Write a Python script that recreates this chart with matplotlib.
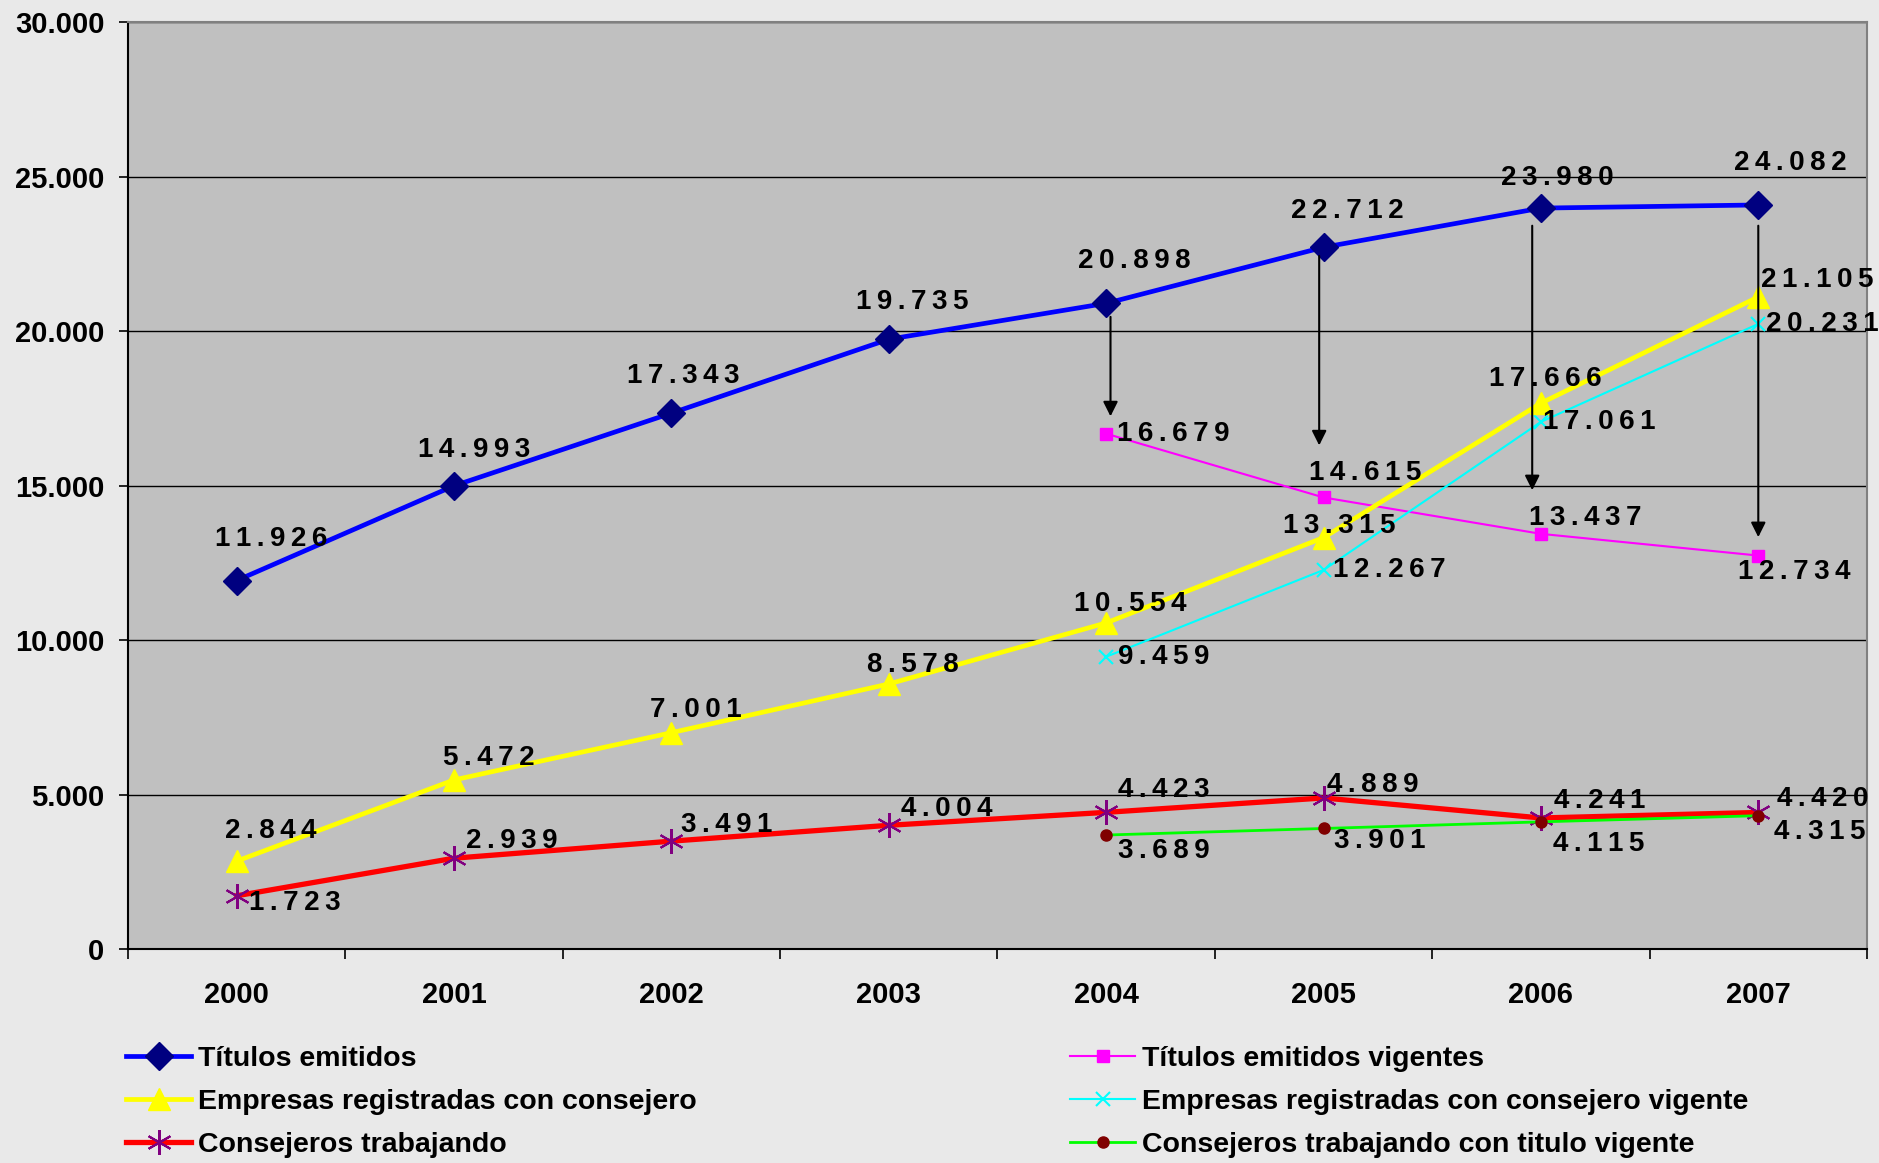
import matplotlib
matplotlib.use("Agg")
import matplotlib.pyplot as plt
from matplotlib.lines import Line2D

plt.rcParams["font.family"] = ["Liberation Sans", "DejaVu Sans"]
plt.rcParams["font.weight"] = "bold"

years = ["2000", "2001", "2002", "2003", "2004", "2005", "2006", "2007"]
titulos = [11926, 14993, 17343, 19735, 20898, 22712, 23980, 24082]
empresas = [2844, 5472, 7001, 8578, 10554, 13315, 17666, 21105]
consejeros = [1723, 2939, 3491, 4004, 4423, 4889, 4241, 4420]
# series that start in 2004
vig_idx = [4, 5, 6, 7]
titulos_vig = [16679, 14615, 13437, 12734]
empresas_vig = [9459, 12267, 17061, 20231]
consejeros_vig = [3689, 3901, 4115, 4315]
# arrows from "emitidos" down to "vigentes"
arrow_top = [20550, 22520, 23500, 23500]
arrow_end = [17150, 16210, 14760, 13240]

names = ["Títulos emitidos", "Empresas registradas con consejero", "Consejeros trabajando",
         "Títulos emitidos vigentes", "Empresas registradas con consejero vigente",
         "Consejeros trabajando con titulo vigente"]

# label offsets in pixels (dx, dy)
off_tit = [(35, 42), (20, 36), (12, 37), (23, 37), (28, 42), (24, 36), (16, 30), (32, 42)]
off_emp = [(34, 30), (35, 22), (24, 23), (24, 19), (24, 19), (16, 12), (4, 24), (59, 17)]
off_cons = [(58, -7), (58, 17), (55, 16), (58, 16), (58, 22), (49, 13), (59, 17), (64, 13)]
off_tvig = [(67, 0), (42, 24), (44, 16), (36, -16)]
off_evig = [(58, 0), (66, 0), (58, 0), (64, 0)]
off_cvig = [(58, -16), (56, -13), (58, -22), (61, -16)]
arrow_dx = [0.02, -0.02, -0.04, 0.0]


def fmt(v):
    return f"{v:,}".replace(",", ".")


def spaced(s):
    return "\u2009".join(s)


fig = plt.figure(figsize=(18.79, 11.63), dpi=100)
fig.patch.set_facecolor("#e9e9e9")
ax = fig.add_axes([0.0681, 0.184, 0.9255, 0.797])
ax.set_facecolor("#c0c0c0")

x = list(range(len(years)))

ax.plot(x, titulos, color="#0000ff", lw=3.4, marker="D", ms=14, mfc="#000080", mec="#000080", zorder=5)
ax.plot(x, empresas, color="#ffff00", lw=3.4, marker="^", ms=16, mfc="#ffff00", mec="#ffff00", zorder=5)
ax.plot(x, consejeros, color="#ff0000", lw=3.8, marker=(6, 2, 0), ms=18, mew=1.5, mec="#800080", zorder=5)
ax.plot(vig_idx, titulos_vig, color="#ff00ff", lw=1.5, marker="s", ms=8, mfc="#ff00ff", mec="#ff00ff", zorder=4)
ax.plot(vig_idx, empresas_vig, color="#00ffff", lw=1.5, marker="x", ms=10, mew=1.5, mec="#00ffff", zorder=4)
ax.plot(vig_idx, consejeros_vig, color="#00ff00", lw=2, marker="o", ms=8, mfc="#800000", mec="#800000", zorder=6)

for i, t, e, dx in zip(vig_idx, arrow_top, arrow_end, arrow_dx):
    ax.annotate("", xy=(i + dx, e), xytext=(i + dx, t),
                arrowprops=dict(arrowstyle="-|>", color="black", lw=1.5, mutation_scale=22),
                zorder=7)

label_sets = [
    (x, titulos, off_tit), (x, empresas, off_emp), (x, consejeros, off_cons),
    (vig_idx, titulos_vig, off_tvig), (vig_idx, empresas_vig, off_evig), (vig_idx, consejeros_vig, off_cvig),
]
for xs, ys, offs in label_sets:
    for xi, yi, (dx, dy) in zip(xs, ys, offs):
        ax.annotate(spaced(fmt(yi)), (xi, yi), xytext=(dx, dy), textcoords="offset pixels",
                    ha="center", va="center", fontsize=20, fontweight="bold", zorder=8)

ax.set_xlim(-0.5, 7.5)
ax.set_ylim(0, 30000)
ax.set_yticks(range(0, 30001, 5000))
ax.set_yticklabels([fmt(v) for v in range(0, 30001, 5000)])
ax.yaxis.grid(True, color="black", lw=1)
ax.set_axisbelow(True)
ax.set_xticks(x)
ax.set_xticklabels(years)
ax.set_xticks([i + 0.5 for i in range(-1, 8)], minor=True)
ax.tick_params(axis="x", which="major", length=0, pad=23, labelsize=21)
ax.tick_params(axis="x", which="minor", length=7, width=1.2, direction="out")
ax.tick_params(axis="y", length=6.5, width=1.2, pad=10.5, labelsize=21)
for lab in ax.get_xticklabels() + ax.get_yticklabels():
    lab.set_fontweight("bold")

ax.spines["left"].set_color("black")
ax.spines["left"].set_linewidth(1.5)
ax.spines["bottom"].set_color("black")
ax.spines["bottom"].set_linewidth(1.5)
ax.spines["top"].set_color("#808080")
ax.spines["right"].set_color("#808080")
ax.spines["top"].set_linewidth(1.5)
ax.spines["right"].set_linewidth(1.5)

handles = [
    Line2D([], [], color="#0000ff", lw=3.4, marker="D", ms=14, mfc="#000080", mec="#000080"),
    Line2D([], [], color="#ffff00", lw=3.4, marker="^", ms=16, mfc="#ffff00", mec="#ffff00"),
    Line2D([], [], color="#ff0000", lw=3.8, marker=(6, 2, 0), ms=18, mew=1.5, mec="#800080"),
    Line2D([], [], color="#ff00ff", lw=1.5, marker="s", ms=8, mfc="#ff00ff", mec="#ff00ff"),
    Line2D([], [], color="#00ffff", lw=1.5, marker="x", ms=10, mew=1.5, mec="#00ffff"),
    Line2D([], [], color="#00ff00", lw=2, marker="o", ms=8, mfc="#800000", mec="#800000"),
]

for k, xpos in enumerate([126, 1070]):
    fig.legend(handles[3 * k:3 * k + 3], names[3 * k:3 * k + 3], loc="upper left",
               bbox_to_anchor=(xpos / 1879, 1 - 1046 / 1163), frameon=False,
               borderpad=0, borderaxespad=0, handlelength=2.3, handletextpad=0.23,
               labelspacing=0.6, prop={"size": 20.5, "weight": "bold"})

fig.savefig("out.png", dpi=100, facecolor=fig.get_facecolor())
